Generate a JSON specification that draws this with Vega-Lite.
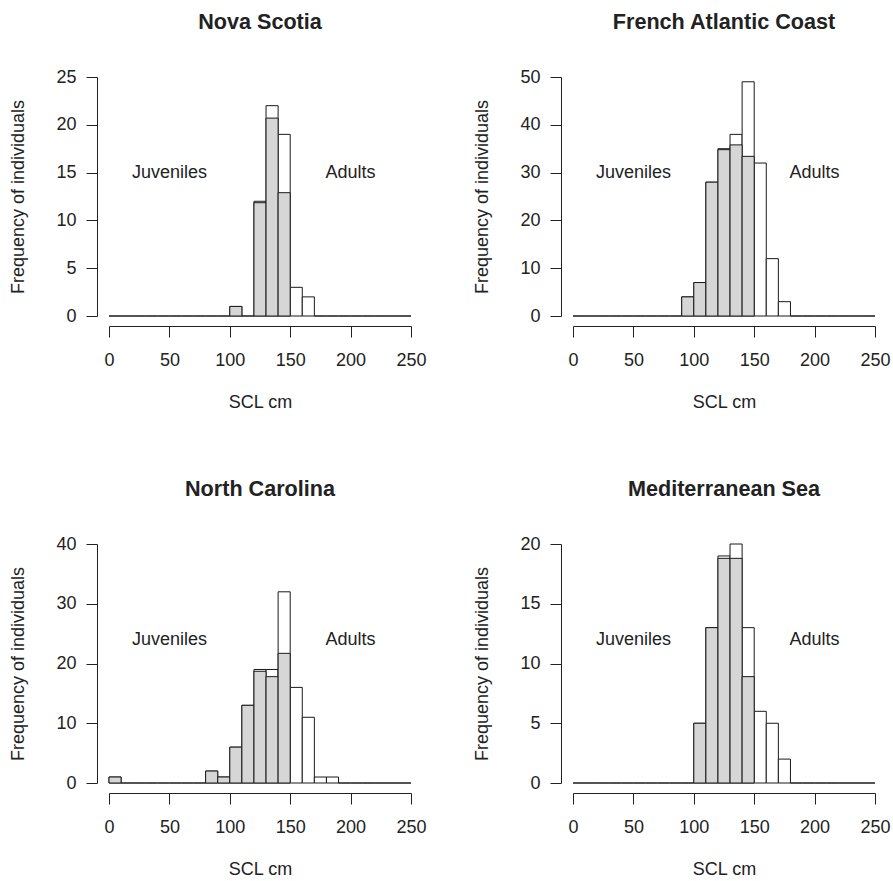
{
  "$schema": "https://vega.github.io/schema/vega-lite/v6.json",
  "padding": {"left": 9, "top": 12, "right": 0, "bottom": 0},
  "background": "white",
  "datasets": {
    "hist": [
      {"region":"Nova Scotia","lo":0,"hi":10,"total":0,"juv":0},
      {"region":"Nova Scotia","lo":10,"hi":20,"total":0,"juv":0},
      {"region":"Nova Scotia","lo":20,"hi":30,"total":0,"juv":0},
      {"region":"Nova Scotia","lo":30,"hi":40,"total":0,"juv":0},
      {"region":"Nova Scotia","lo":40,"hi":50,"total":0,"juv":0},
      {"region":"Nova Scotia","lo":50,"hi":60,"total":0,"juv":0},
      {"region":"Nova Scotia","lo":60,"hi":70,"total":0,"juv":0},
      {"region":"Nova Scotia","lo":70,"hi":80,"total":0,"juv":0},
      {"region":"Nova Scotia","lo":80,"hi":90,"total":0,"juv":0},
      {"region":"Nova Scotia","lo":90,"hi":100,"total":0,"juv":0},
      {"region":"Nova Scotia","lo":100,"hi":110,"total":1,"juv":1},
      {"region":"Nova Scotia","lo":110,"hi":120,"total":0,"juv":0},
      {"region":"Nova Scotia","lo":120,"hi":130,"total":12,"juv":11.85},
      {"region":"Nova Scotia","lo":130,"hi":140,"total":22,"juv":20.7},
      {"region":"Nova Scotia","lo":140,"hi":150,"total":19,"juv":12.9},
      {"region":"Nova Scotia","lo":150,"hi":160,"total":3,"juv":0},
      {"region":"Nova Scotia","lo":160,"hi":170,"total":2,"juv":0},
      {"region":"Nova Scotia","lo":170,"hi":180,"total":0,"juv":0},
      {"region":"Nova Scotia","lo":180,"hi":190,"total":0,"juv":0},
      {"region":"Nova Scotia","lo":190,"hi":200,"total":0,"juv":0},
      {"region":"Nova Scotia","lo":200,"hi":210,"total":0,"juv":0},
      {"region":"Nova Scotia","lo":210,"hi":220,"total":0,"juv":0},
      {"region":"Nova Scotia","lo":220,"hi":230,"total":0,"juv":0},
      {"region":"Nova Scotia","lo":230,"hi":240,"total":0,"juv":0},
      {"region":"Nova Scotia","lo":240,"hi":250,"total":0,"juv":0},

      {"region":"French Atlantic Coast","lo":0,"hi":10,"total":0,"juv":0},
      {"region":"French Atlantic Coast","lo":10,"hi":20,"total":0,"juv":0},
      {"region":"French Atlantic Coast","lo":20,"hi":30,"total":0,"juv":0},
      {"region":"French Atlantic Coast","lo":30,"hi":40,"total":0,"juv":0},
      {"region":"French Atlantic Coast","lo":40,"hi":50,"total":0,"juv":0},
      {"region":"French Atlantic Coast","lo":50,"hi":60,"total":0,"juv":0},
      {"region":"French Atlantic Coast","lo":60,"hi":70,"total":0,"juv":0},
      {"region":"French Atlantic Coast","lo":70,"hi":80,"total":0,"juv":0},
      {"region":"French Atlantic Coast","lo":80,"hi":90,"total":0,"juv":0},
      {"region":"French Atlantic Coast","lo":90,"hi":100,"total":4,"juv":4},
      {"region":"French Atlantic Coast","lo":100,"hi":110,"total":7,"juv":7},
      {"region":"French Atlantic Coast","lo":110,"hi":120,"total":28,"juv":28},
      {"region":"French Atlantic Coast","lo":120,"hi":130,"total":35,"juv":34.8},
      {"region":"French Atlantic Coast","lo":130,"hi":140,"total":38,"juv":35.8},
      {"region":"French Atlantic Coast","lo":140,"hi":150,"total":49,"juv":33.4},
      {"region":"French Atlantic Coast","lo":150,"hi":160,"total":32,"juv":0},
      {"region":"French Atlantic Coast","lo":160,"hi":170,"total":12,"juv":0},
      {"region":"French Atlantic Coast","lo":170,"hi":180,"total":3,"juv":0},
      {"region":"French Atlantic Coast","lo":180,"hi":190,"total":0,"juv":0},
      {"region":"French Atlantic Coast","lo":190,"hi":200,"total":0,"juv":0},
      {"region":"French Atlantic Coast","lo":200,"hi":210,"total":0,"juv":0},
      {"region":"French Atlantic Coast","lo":210,"hi":220,"total":0,"juv":0},
      {"region":"French Atlantic Coast","lo":220,"hi":230,"total":0,"juv":0},
      {"region":"French Atlantic Coast","lo":230,"hi":240,"total":0,"juv":0},
      {"region":"French Atlantic Coast","lo":240,"hi":250,"total":0,"juv":0},

      {"region":"North Carolina","lo":0,"hi":10,"total":1,"juv":1},
      {"region":"North Carolina","lo":10,"hi":20,"total":0,"juv":0},
      {"region":"North Carolina","lo":20,"hi":30,"total":0,"juv":0},
      {"region":"North Carolina","lo":30,"hi":40,"total":0,"juv":0},
      {"region":"North Carolina","lo":40,"hi":50,"total":0,"juv":0},
      {"region":"North Carolina","lo":50,"hi":60,"total":0,"juv":0},
      {"region":"North Carolina","lo":60,"hi":70,"total":0,"juv":0},
      {"region":"North Carolina","lo":70,"hi":80,"total":0,"juv":0},
      {"region":"North Carolina","lo":80,"hi":90,"total":2,"juv":2},
      {"region":"North Carolina","lo":90,"hi":100,"total":1,"juv":1},
      {"region":"North Carolina","lo":100,"hi":110,"total":6,"juv":6},
      {"region":"North Carolina","lo":110,"hi":120,"total":13,"juv":13},
      {"region":"North Carolina","lo":120,"hi":130,"total":19,"juv":18.7},
      {"region":"North Carolina","lo":130,"hi":140,"total":19,"juv":17.8},
      {"region":"North Carolina","lo":140,"hi":150,"total":32,"juv":21.7},
      {"region":"North Carolina","lo":150,"hi":160,"total":16,"juv":0},
      {"region":"North Carolina","lo":160,"hi":170,"total":11,"juv":0},
      {"region":"North Carolina","lo":170,"hi":180,"total":1,"juv":0},
      {"region":"North Carolina","lo":180,"hi":190,"total":1,"juv":0},
      {"region":"North Carolina","lo":190,"hi":200,"total":0,"juv":0},
      {"region":"North Carolina","lo":200,"hi":210,"total":0,"juv":0},
      {"region":"North Carolina","lo":210,"hi":220,"total":0,"juv":0},
      {"region":"North Carolina","lo":220,"hi":230,"total":0,"juv":0},
      {"region":"North Carolina","lo":230,"hi":240,"total":0,"juv":0},
      {"region":"North Carolina","lo":240,"hi":250,"total":0,"juv":0},

      {"region":"Mediterranean Sea","lo":0,"hi":10,"total":0,"juv":0},
      {"region":"Mediterranean Sea","lo":10,"hi":20,"total":0,"juv":0},
      {"region":"Mediterranean Sea","lo":20,"hi":30,"total":0,"juv":0},
      {"region":"Mediterranean Sea","lo":30,"hi":40,"total":0,"juv":0},
      {"region":"Mediterranean Sea","lo":40,"hi":50,"total":0,"juv":0},
      {"region":"Mediterranean Sea","lo":50,"hi":60,"total":0,"juv":0},
      {"region":"Mediterranean Sea","lo":60,"hi":70,"total":0,"juv":0},
      {"region":"Mediterranean Sea","lo":70,"hi":80,"total":0,"juv":0},
      {"region":"Mediterranean Sea","lo":80,"hi":90,"total":0,"juv":0},
      {"region":"Mediterranean Sea","lo":90,"hi":100,"total":0,"juv":0},
      {"region":"Mediterranean Sea","lo":100,"hi":110,"total":5,"juv":5},
      {"region":"Mediterranean Sea","lo":110,"hi":120,"total":13,"juv":13},
      {"region":"Mediterranean Sea","lo":120,"hi":130,"total":19,"juv":18.8},
      {"region":"Mediterranean Sea","lo":130,"hi":140,"total":20,"juv":18.8},
      {"region":"Mediterranean Sea","lo":140,"hi":150,"total":13,"juv":8.9},
      {"region":"Mediterranean Sea","lo":150,"hi":160,"total":6,"juv":0},
      {"region":"Mediterranean Sea","lo":160,"hi":170,"total":5,"juv":0},
      {"region":"Mediterranean Sea","lo":170,"hi":180,"total":2,"juv":0},
      {"region":"Mediterranean Sea","lo":180,"hi":190,"total":0,"juv":0},
      {"region":"Mediterranean Sea","lo":190,"hi":200,"total":0,"juv":0},
      {"region":"Mediterranean Sea","lo":200,"hi":210,"total":0,"juv":0},
      {"region":"Mediterranean Sea","lo":210,"hi":220,"total":0,"juv":0},
      {"region":"Mediterranean Sea","lo":220,"hi":230,"total":0,"juv":0},
      {"region":"Mediterranean Sea","lo":230,"hi":240,"total":0,"juv":0},
      {"region":"Mediterranean Sea","lo":240,"hi":250,"total":0,"juv":0}
    ],
    "labels": [
      {"region":"Nova Scotia","x":50,"y":15,"label":"Juveniles"},
      {"region":"Nova Scotia","x":200,"y":15,"label":"Adults"},
      {"region":"French Atlantic Coast","x":50,"y":30,"label":"Juveniles"},
      {"region":"French Atlantic Coast","x":200,"y":30,"label":"Adults"},
      {"region":"North Carolina","x":50,"y":24,"label":"Juveniles"},
      {"region":"North Carolina","x":200,"y":24,"label":"Adults"},
      {"region":"Mediterranean Sea","x":50,"y":12,"label":"Juveniles"},
      {"region":"Mediterranean Sea","x":200,"y":12,"label":"Adults"}
    ]
  },
  "spacing": 67,
  "vconcat": [
    {
      "spacing": 46,
      "hconcat": [
        {
          "title": "Nova Scotia",
          "width": 302, "height": 239,
          "layer": [
            {"data": {"name": "hist"}, "transform": [{"filter": "datum.region === 'Nova Scotia'"}],
             "mark": {"type": "rect", "fill": "white", "stroke": "#1a1a1a", "strokeWidth": 1},
             "encoding": {
               "x": {"field": "lo", "type": "quantitative", "scale": {"domain": [0, 250], "nice": false, "zero": false}, "axis": {"title": "SCL cm", "values": [0, 50, 100, 150, 200, 250]}},
               "x2": {"field": "hi"},
               "y": {"field": "total", "type": "quantitative", "scale": {"domain": [0, 25], "nice": false}, "axis": {"title": "Frequency of individuals", "values": [0, 5, 10, 15, 20, 25]}},
               "y2": {"datum": 0}}},
            {"data": {"name": "hist"}, "transform": [{"filter": "datum.region === 'Nova Scotia' && datum.juv > 0"}],
             "mark": {"type": "rect", "fill": "#d6d6d6", "stroke": "#1a1a1a", "strokeWidth": 1},
             "encoding": {"x": {"field": "lo", "type": "quantitative"}, "x2": {"field": "hi"}, "y": {"field": "juv", "type": "quantitative"}, "y2": {"datum": 0}}},
            {"data": {"name": "labels"}, "transform": [{"filter": "datum.region === 'Nova Scotia'"}],
             "mark": {"type": "text", "fontSize": 18, "font": "Liberation Sans", "color": "#222", "align": "center", "baseline": "middle"},
             "encoding": {"x": {"field": "x", "type": "quantitative"}, "y": {"field": "y", "type": "quantitative"}, "text": {"field": "label"}}}
          ]
        },
        {
          "title": "French Atlantic Coast",
          "width": 302, "height": 239,
          "layer": [
            {"data": {"name": "hist"}, "transform": [{"filter": "datum.region === 'French Atlantic Coast'"}],
             "mark": {"type": "rect", "fill": "white", "stroke": "#1a1a1a", "strokeWidth": 1},
             "encoding": {
               "x": {"field": "lo", "type": "quantitative", "scale": {"domain": [0, 250], "nice": false, "zero": false}, "axis": {"title": "SCL cm", "values": [0, 50, 100, 150, 200, 250]}},
               "x2": {"field": "hi"},
               "y": {"field": "total", "type": "quantitative", "scale": {"domain": [0, 50], "nice": false}, "axis": {"title": "Frequency of individuals", "values": [0, 10, 20, 30, 40, 50]}},
               "y2": {"datum": 0}}},
            {"data": {"name": "hist"}, "transform": [{"filter": "datum.region === 'French Atlantic Coast' && datum.juv > 0"}],
             "mark": {"type": "rect", "fill": "#d6d6d6", "stroke": "#1a1a1a", "strokeWidth": 1},
             "encoding": {"x": {"field": "lo", "type": "quantitative"}, "x2": {"field": "hi"}, "y": {"field": "juv", "type": "quantitative"}, "y2": {"datum": 0}}},
            {"data": {"name": "labels"}, "transform": [{"filter": "datum.region === 'French Atlantic Coast'"}],
             "mark": {"type": "text", "fontSize": 18, "font": "Liberation Sans", "color": "#222", "align": "center", "baseline": "middle"},
             "encoding": {"x": {"field": "x", "type": "quantitative"}, "y": {"field": "y", "type": "quantitative"}, "text": {"field": "label"}}}
          ]
        }
      ]
    },
    {
      "spacing": 46,
      "hconcat": [
        {
          "title": "North Carolina",
          "width": 302, "height": 239,
          "layer": [
            {"data": {"name": "hist"}, "transform": [{"filter": "datum.region === 'North Carolina'"}],
             "mark": {"type": "rect", "fill": "white", "stroke": "#1a1a1a", "strokeWidth": 1},
             "encoding": {
               "x": {"field": "lo", "type": "quantitative", "scale": {"domain": [0, 250], "nice": false, "zero": false}, "axis": {"title": "SCL cm", "values": [0, 50, 100, 150, 200, 250]}},
               "x2": {"field": "hi"},
               "y": {"field": "total", "type": "quantitative", "scale": {"domain": [0, 40], "nice": false}, "axis": {"title": "Frequency of individuals", "values": [0, 10, 20, 30, 40]}},
               "y2": {"datum": 0}}},
            {"data": {"name": "hist"}, "transform": [{"filter": "datum.region === 'North Carolina' && datum.juv > 0"}],
             "mark": {"type": "rect", "fill": "#d6d6d6", "stroke": "#1a1a1a", "strokeWidth": 1},
             "encoding": {"x": {"field": "lo", "type": "quantitative"}, "x2": {"field": "hi"}, "y": {"field": "juv", "type": "quantitative"}, "y2": {"datum": 0}}},
            {"data": {"name": "labels"}, "transform": [{"filter": "datum.region === 'North Carolina'"}],
             "mark": {"type": "text", "fontSize": 18, "font": "Liberation Sans", "color": "#222", "align": "center", "baseline": "middle"},
             "encoding": {"x": {"field": "x", "type": "quantitative"}, "y": {"field": "y", "type": "quantitative"}, "text": {"field": "label"}}}
          ]
        },
        {
          "title": "Mediterranean Sea",
          "width": 302, "height": 239,
          "layer": [
            {"data": {"name": "hist"}, "transform": [{"filter": "datum.region === 'Mediterranean Sea'"}],
             "mark": {"type": "rect", "fill": "white", "stroke": "#1a1a1a", "strokeWidth": 1},
             "encoding": {
               "x": {"field": "lo", "type": "quantitative", "scale": {"domain": [0, 250], "nice": false, "zero": false}, "axis": {"title": "SCL cm", "values": [0, 50, 100, 150, 200, 250]}},
               "x2": {"field": "hi"},
               "y": {"field": "total", "type": "quantitative", "scale": {"domain": [0, 20], "nice": false}, "axis": {"title": "Frequency of individuals", "values": [0, 5, 10, 15, 20]}},
               "y2": {"datum": 0}}},
            {"data": {"name": "hist"}, "transform": [{"filter": "datum.region === 'Mediterranean Sea' && datum.juv > 0"}],
             "mark": {"type": "rect", "fill": "#d6d6d6", "stroke": "#1a1a1a", "strokeWidth": 1},
             "encoding": {"x": {"field": "lo", "type": "quantitative"}, "x2": {"field": "hi"}, "y": {"field": "juv", "type": "quantitative"}, "y2": {"datum": 0}}},
            {"data": {"name": "labels"}, "transform": [{"filter": "datum.region === 'Mediterranean Sea'"}],
             "mark": {"type": "text", "fontSize": 18, "font": "Liberation Sans", "color": "#222", "align": "center", "baseline": "middle"},
             "encoding": {"x": {"field": "x", "type": "quantitative"}, "y": {"field": "y", "type": "quantitative"}, "text": {"field": "label"}}}
          ]
        }
      ]
    }
  ],
  "config": {
    "font": "Liberation Sans",
    "view": {"stroke": null},
    "axis": {
      "grid": false,
      "domainColor": "#222", "tickColor": "#222", "labelColor": "#222", "titleColor": "#222",
      "labelFont": "Liberation Sans", "titleFont": "Liberation Sans",
      "labelFontSize": 18, "titleFontSize": 18, "titleFontWeight": "normal",
      "tickSize": 11, "domainWidth": 1, "tickWidth": 1,
      "labelFlush": false, "labelOverlap": false, "labelBound": false
    },
    "axisX": {"offset": 10, "labelPadding": 14.5, "titlePadding": 24},
    "axisY": {"offset": 12, "labelPadding": 10, "titlePadding": 28, "labelAngle": 0},
    "title": {"fontSize": 21.6, "fontWeight": "bold", "font": "Liberation Sans", "color": "#222", "offset": 34, "anchor": "middle"}
  }
}
